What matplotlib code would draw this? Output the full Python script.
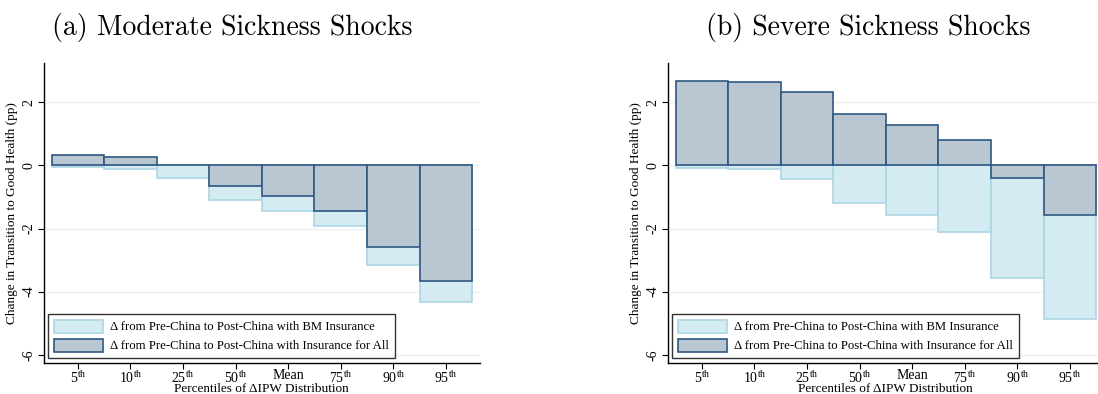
import numpy as np
import matplotlib
matplotlib.use("Agg")
import matplotlib.pyplot as plt
from matplotlib.patches import Patch

plt.rcParams['font.family'] = ['Liberation Serif', 'DejaVu Serif']
plt.rcParams['mathtext.fontset'] = 'custom'
plt.rcParams['mathtext.rm'] = 'Liberation Serif'

# Data
labels = ['5$^{\\mathrm{th}}$', '10$^{\\mathrm{th}}$', '25$^{\\mathrm{th}}$', '50$^{\\mathrm{th}}$',
          'Mean', '75$^{\\mathrm{th}}$', '90$^{\\mathrm{th}}$', '95$^{\\mathrm{th}}$']
moderate_bm = [-0.04, -0.10, -0.39, -1.09, -1.44, -1.92, -3.15, -4.34]
moderate_all = [0.33, 0.28, 0.01, -0.64, -0.98, -1.43, -2.57, -3.67]
severe_bm = [-0.07, -0.12, -0.42, -1.19, -1.56, -2.12, -3.56, -4.85]
severe_all = [2.67, 2.63, 2.33, 1.64, 1.27, 0.80, -0.39, -1.58]

titles = ['(a) Moderate Sickness Shocks', '(b) Severe Sickness Shocks']
leg_bm = '\u0394 from Pre-China to Post-China with BM Insurance'
leg_all = '\u0394 from Pre-China to Post-China with Insurance for All'

light_fill = '#d4ebf1'
light_edge = '#acd6e4'
dark_fill = '#b9c7d2'
dark_edge = '#2f5882'

fig = plt.figure(figsize=(10.98, 3.94), dpi=100)
ax1 = fig.add_axes([0.0398, 0.0794, 0.3974, 0.7614])
ax2 = fig.add_axes([0.6081, 0.0794, 0.3974, 0.7614])

x = np.arange(1, len(labels) + 1)

for ax, bm, allv, title, tx in [(ax1, moderate_bm, moderate_all, titles[0], 232),
                                (ax2, severe_bm, severe_all, titles[1], 868)]:
    ax.bar(x, bm, width=1.0, color=light_fill, edgecolor=light_edge, linewidth=1.2, zorder=2)
    ax.bar(x, allv, width=1.0, color=dark_fill, edgecolor=dark_edge, linewidth=1.2, zorder=3)
    ax.set_xlim(0.35, 8.65)
    ax.set_ylim(-6.25, 3.25)
    ax.set_yticks([2, 0, -2, -4, -6])
    ax.set_yticklabels(['2', '0', '-2', '-4', '-6'], rotation=90, va='center', fontsize=10)
    ax.set_xticks(x)
    ax.set_xticklabels(labels, fontsize=10)
    ax.tick_params(axis='both', direction='out', length=4, width=0.8, pad=2)
    ax.tick_params(axis='x', pad=0.5)
    ax.grid(axis='y', color='#eaf3f4', linewidth=1.0, zorder=0)
    ax.set_axisbelow(True)
    for s in ['top', 'right']:
        ax.spines[s].set_visible(False)
    ax.spines['left'].set_linewidth(1.0)
    ax.spines['bottom'].set_linewidth(1.0)
    ax.set_ylabel('Change in Transition to Good Health (pp)', fontsize=9.5, labelpad=3)
    ax.set_xlabel('Percentiles of \u0394IPW Distribution', fontsize=9.5, labelpad=-1.5)
    handles = [Patch(facecolor=light_fill, edgecolor=light_edge, linewidth=1.2, label=leg_bm),
               Patch(facecolor=dark_fill, edgecolor=dark_edge, linewidth=1.2, label=leg_all)]
    leg = ax.legend(handles=handles, loc='lower left', bbox_to_anchor=(0.0106, 0.015),
                    borderaxespad=0, fontsize=9.2, frameon=True, fancybox=False,
                    edgecolor='black', handlelength=3.8, handleheight=1.2,
                    borderpad=0.45, labelspacing=0.4, handletextpad=0.6)
    leg.get_frame().set_linewidth(1.0)
    fig.text(tx / 1098, 1 - 27 / 394, title, fontsize=20, family='cmr10',
             ha='center', va='center')

fig.savefig('out.png', dpi=100)
